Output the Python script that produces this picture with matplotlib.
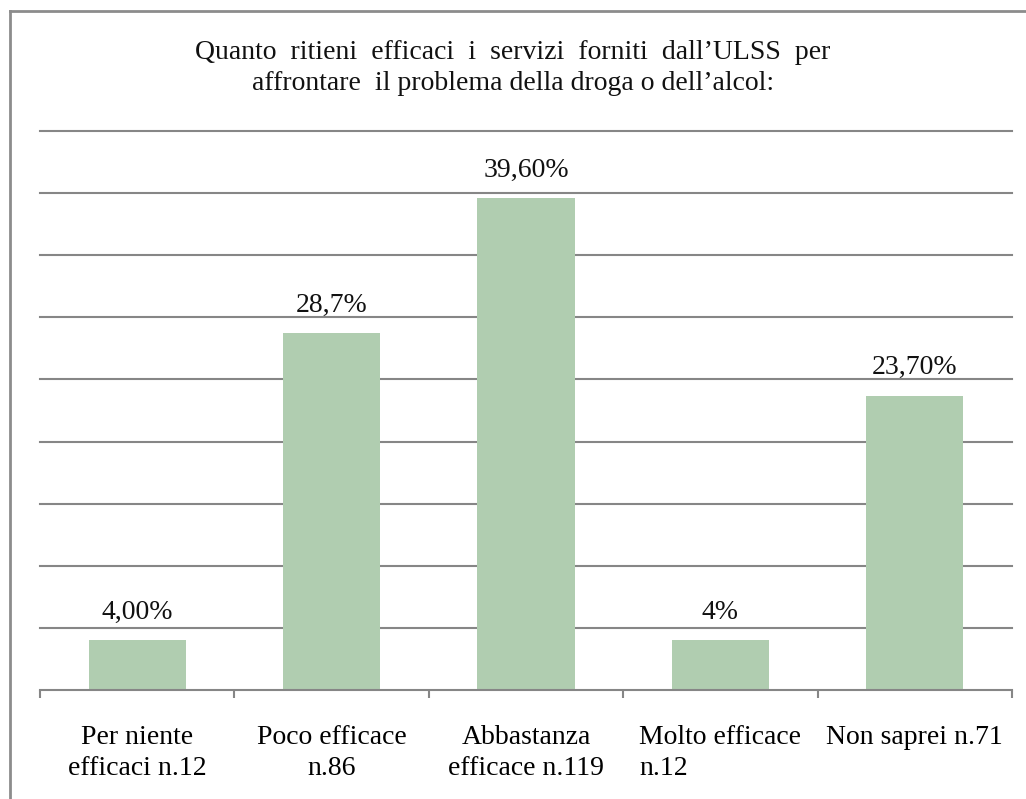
import matplotlib
matplotlib.use("Agg")
import matplotlib.pyplot as plt
from matplotlib.lines import Line2D

categories = ["Per niente\nefficaci n.12", "Poco efficace\nn.86",
              "Abbastanza\nefficace n.119", "Molto efficace\nn.12",
              "Non saprei n.71"]
values = [4.0, 28.7, 39.6, 4.0, 23.7]
value_labels = ["4,00%", "28,7%", "39,60%", "4%", "23,70%"]
title = ("Quanto  ritieni  efficaci  i  servizi  forniti  dall’ULSS  per\n"
         "affrontare  il problema della droga o dell’alcol:")

_BAR = "#b0cdb0"
_GRID = "#868686"
_FONT = "Liberation Serif"

plt.rcParams["font.family"] = [_FONT, "DejaVu Serif"]

fig = plt.figure(figsize=(10.26, 7.99), dpi=100)
ax = fig.add_axes([40 / 1026, 1 - 690 / 799, 972 / 1026, 559 / 799])

xs = list(range(len(categories)))
ax.bar(xs, values, width=0.5, color=_BAR, zorder=2)
for x, v, lab in zip(xs, values, value_labels):
    ax.annotate(lab, (x, v), xytext=(0, 11), textcoords="offset points",
                ha="center", va="bottom", fontsize=20, color="#111111")

ax.set_xlim(-0.5, len(categories) - 0.5)
ax.set_ylim(0, 45)
ax.set_yticks(range(5, 50, 5))
ax.yaxis.grid(True, color=_GRID, linewidth=1.5, zorder=0)
for gl in ax.get_ygridlines():
    gl.set_clip_on(False)
ax.tick_params(axis="y", left=False, labelleft=False)

ax.set_xticks([i - 0.5 for i in range(len(categories) + 1)])
ax.set_xticklabels([])
ax.tick_params(axis="x", which="major", direction="out", length=6,
               width=1.5, color=_GRID)
ax.set_xticks(xs, minor=True)
ax.set_xticklabels(categories, minor=True, fontsize=20, linespacing=1.35)
ax.tick_params(axis="x", which="minor", length=0, pad=25)
ax.get_xticklabels(minor=True)[3].set_multialignment("left")

for name in ("left", "right", "top"):
    ax.spines[name].set_visible(False)
ax.spines["bottom"].set_color(_GRID)
ax.spines["bottom"].set_linewidth(1.5)

fig.text(0.5, 1 - 40 / 799, title, ha="center", va="top", fontsize=20,
         linespacing=1.33, color="#111111")

# outer chart frame (only left and top edges visible)
fig.add_artist(Line2D([10 / 1026, 10 / 1026], [0, 1 - 11 / 799],
                      transform=fig.transFigure, color="#8c8c8c", linewidth=2))
fig.add_artist(Line2D([10 / 1026, 1], [1 - 11 / 799, 1 - 11 / 799],
                      transform=fig.transFigure, color="#8c8c8c", linewidth=2))

fig.savefig("out.png", dpi=100, facecolor="white")
plt.close(fig)
